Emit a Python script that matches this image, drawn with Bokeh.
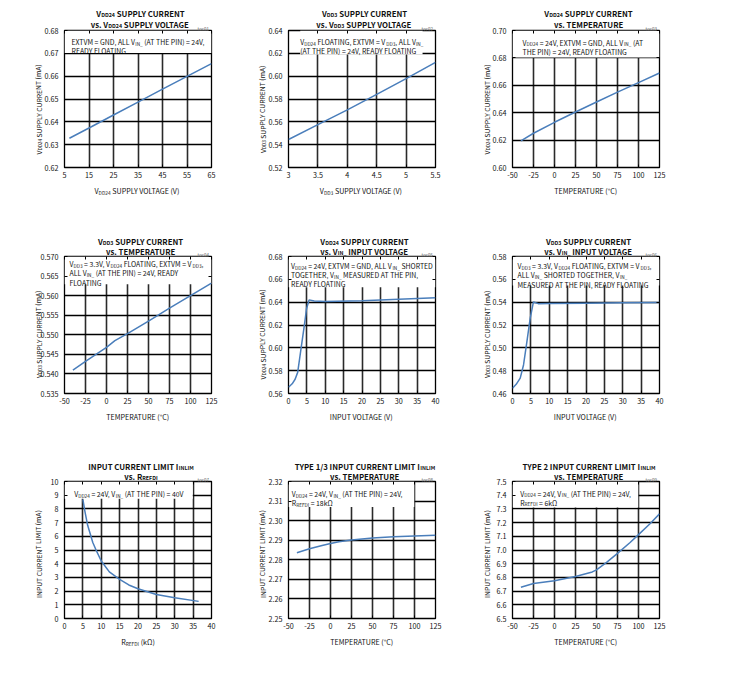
import math
import glob
import os
import struct
from bokeh.plotting import figure
from bokeh.models import FixedTicker, LinearAxis, Range1d, BoxAnnotation, ColumnDataSource
from bokeh.core.properties import value
from bokeh.layouts import column, row
from bokeh.embed import file_html
from bokeh.resources import INLINE

# ---------------- data ----------------
c1_x = [7, 15, 25, 35, 45, 55, 65]
c1_y = [0.6328, 0.6373, 0.6430, 0.6486, 0.6543, 0.6599, 0.6655]

c2_x = [3.0, 3.5, 4.0, 4.5, 5.0, 5.5]
c2_y = [0.5445, 0.5575, 0.5705, 0.5840, 0.5978, 0.6120]

c3_x = [-40, -25, 0, 25, 50, 75, 100, 125]
c3_y = [0.6195, 0.6250, 0.6330, 0.6405, 0.6478, 0.6550, 0.6620, 0.6690]

c4_x = [-40, -25, 0, 10, 25, 50, 75, 100, 125]
c4_y = [0.5410, 0.5432, 0.5468, 0.5485, 0.5503, 0.5535, 0.5568, 0.5600, 0.5632]

c5_x = [0, 1, 1.8, 2.5, 3.4, 4.3, 4.9, 5.6, 7, 10, 20, 30, 40]
c5_y = [0.5655, 0.5685, 0.5725, 0.5785, 0.5990, 0.6195, 0.6340, 0.6420,
        0.6410, 0.6405, 0.6412, 0.6425, 0.6438]

c6_x = [0, 1, 2.1, 3.0, 3.9, 4.8, 5.7, 7, 10, 20, 30, 40]
c6_y = [0.4645, 0.4680, 0.4735, 0.4850, 0.5050, 0.5255, 0.5402, 0.5387,
        0.5388, 0.5391, 0.5394, 0.5397]

c7_x = [5, 5.5, 6.3, 7.7, 8.5, 10, 12.2, 15, 17.5, 20, 25, 30, 36.5]
c7_y = [8.7, 7.9, 6.8, 5.55, 5.05, 4.2, 3.4, 2.85, 2.45, 2.17, 1.75, 1.52, 1.25]

c8_x = [-40, -25, -10, 0, 10, 25, 50, 75, 100, 125]
c8_y = [2.2836, 2.2856, 2.2873, 2.2883, 2.2892, 2.2901, 2.2911, 2.2918, 2.2922, 2.2925]

c9_x = [-40, -25, 0, 25, 45, 50, 62, 75, 90, 100, 114, 125]
c9_y = [6.728, 6.755, 6.775, 6.806, 6.840, 6.855, 6.910, 6.975, 7.055, 7.112, 7.194, 7.264]

# tick values / labels
temp_ticks = [-50, -25, 0, 25, 50, 75, 100, 125]
temp_labels = ["-50", "-25", "0", "25", "50", "75", "100", "125"]
vin_ticks = [0, 5, 10, 15, 20, 25, 30, 35, 40]
vin_labels = ["0", "5", "10", "15", "20", "25", "30", "35", "40"]

c1_xt = [5, 15, 25, 35, 45, 55, 65]
c1_xl = ["5", "15", "25", "35", "45", "55", "65"]
c1_yt = [0.62, 0.63, 0.64, 0.65, 0.66, 0.67, 0.68]
c1_yl = ["0.62", "0.63", "0.64", "0.65", "0.66", "0.67", "0.68"]

c2_xt = [3, 3.5, 4, 4.5, 5, 5.5]
c2_xl = ["3", "3.5", "4", "4.5", "5", "5.5"]
c2_yt = [0.52, 0.54, 0.56, 0.58, 0.60, 0.62, 0.64]
c2_yl = ["0.52", "0.54", "0.56", "0.58", "0.60", "0.62", "0.64"]

c3_yt = [0.60, 0.62, 0.64, 0.66, 0.68, 0.70]
c3_yl = ["0.60", "0.62", "0.64", "0.66", "0.68", "0.70"]

c4_yt = [0.535, 0.540, 0.545, 0.550, 0.555, 0.560, 0.565, 0.570]
c4_yl = ["0.535", "0.540", "0.545", "0.550", "0.555", "0.560", "0.565", "0.570"]

c5_yt = [0.56, 0.58, 0.60, 0.62, 0.64, 0.66, 0.68]
c5_yl = ["0.56", "0.58", "0.60", "0.62", "0.64", "0.66", "0.68"]

c6_yt = [0.46, 0.48, 0.50, 0.52, 0.54, 0.56, 0.58]
c6_yl = ["0.46", "0.48", "0.50", "0.52", "0.54", "0.56", "0.58"]

c7_yt = [0, 1, 2, 3, 4, 5, 6, 7, 8, 9, 10]
c7_yl = ["0", "1", "2", "3", "4", "5", "6", "7", "8", "9", "10"]

c8_yt = [2.25, 2.26, 2.27, 2.28, 2.29, 2.30, 2.31, 2.32]
c8_yl = ["2.25", "2.26", "2.27", "2.28", "2.29", "2.30", "2.31", "2.32"]

c9_yt = [6.5, 6.6, 6.7, 6.8, 6.9, 7.0, 7.1, 7.2, 7.3, 7.4, 7.5]
c9_yl = ["6.5", "6.6", "6.7", "6.8", "6.9", "7.0", "7.1", "7.2", "7.3", "7.4", "7.5"]

# ---------------- chart texts ----------------
charts = [
    dict(x=c1_x, y=c1_y, xt=c1_xt, xl=c1_xl, yt=c1_yt, yl=c1_yl, toc="toc01",
         title=["V_{DD24} SUPPLY CURRENT", "vs. V_{DD24} SUPPLY VOLTAGE"],
         box=["EXTVM = GND, ALL V_{IN_} (AT THE PIN) = 24V,", "READY FLOATING"],
         bx=7, by=11.6, ext=dict(bottom=0.6702),
         xlabel="V_{DD24} SUPPLY VOLTAGE (V)", ylabel="V_{DD24} SUPPLY CURRENT (mA)"),
    dict(x=c2_x, y=c2_y, xt=c2_xt, xl=c2_xl, yt=c2_yt, yl=c2_yl, toc="toc02",
         title=["V_{DD3} SUPPLY CURRENT", "vs. V_{DD3} SUPPLY VOLTAGE"],
         box=["V_{DD24} FLOATING, EXTVM = V_{DD3}, ALL V_{IN_}", "(AT THE PIN) = 24V, READY FLOATING"],
         bx=11.7, by=11.8, ext=dict(bottom=0.619, left=3.2, right=5.28),
         xlabel="V_{DD3} SUPPLY VOLTAGE (V)", ylabel="V_{DD3} SUPPLY CURRENT (mA)"),
    dict(x=c3_x, y=c3_y, xt=temp_ticks, xl=temp_labels, yt=c3_yt, yl=c3_yl, toc="toc03",
         title=["V_{DD24} SUPPLY CURRENT", "vs. TEMPERATURE"],
         box=["V_{DD24} = 24V, EXTVM = GND, ALL V_{IN_} (AT", "THE PIN) = 24V, READY FLOATING"],
         bx=10, by=12, ext=dict(bottom=0.6803),
         xlabel="TEMPERATURE (°C)", ylabel="V_{DD24} SUPPLY CURRENT (mA)"),
    dict(x=c4_x, y=c4_y, xt=temp_ticks, xl=temp_labels, yt=c4_yt, yl=c4_yl, toc="toc04",
         title=["V_{DD3} SUPPLY CURRENT", "vs. TEMPERATURE"],
         box=["V_{DD3} = 3.3V, V_{DD24} FLOATING, EXTVM = V_{DD3},",
              "ALL V_{IN_} (AT THE PIN) = 24V, READY", "FLOATING"],
         bx=5, by=7.8, ext=dict(bottom=0.5629),
         xlabel="TEMPERATURE (°C)", ylabel="V_{DD3} SUPPLY CURRENT (mA)"),
    dict(x=c5_x, y=c5_y, xt=vin_ticks, xl=vin_labels, yt=c5_yt, yl=c5_yl, toc="toc05",
         title=["V_{DD24} SUPPLY CURRENT", "vs. V_{IN_} INPUT VOLTAGE"],
         box=["V_{DD24} = 24V, EXTVM = GND, ALL V_{IN_} SHORTED",
              "TOGETHER, V_{IN_} MEASURED AT THE PIN,", "READY FLOATING"],
         bx=2.5, by=9.3, ext=dict(bottom=0.653),
         xlabel="INPUT VOLTAGE (V)", ylabel="V_{DD24} SUPPLY CURRENT (mA)"),
    dict(x=c6_x, y=c6_y, xt=vin_ticks, xl=vin_labels, yt=c6_yt, yl=c6_yl, toc="toc06",
         title=["V_{DD3} SUPPLY CURRENT", "vs. V_{IN_} INPUT VOLTAGE"],
         box=["V_{DD3} = 3.3V, V_{DD24} FLOATING, EXTVM = V_{DD3},",
              "ALL V_{IN_} SHORTED TOGETHER, V_{IN_}", "MEASURED AT THE PIN, READY FLOATING"],
         bx=5, by=9.8, ext=dict(bottom=0.5545),
         xlabel="INPUT VOLTAGE (V)", ylabel="V_{DD3} SUPPLY CURRENT (mA)"),
    dict(x=c7_x, y=c7_y, xt=vin_ticks, xl=vin_labels, yt=c7_yt, yl=c7_yl, toc="toc07",
         title=["INPUT CURRENT LIMIT I_{INLIM}", "vs. R_{REFDI}"],
         box=["V_{DD24} = 24V, V_{IN_} (AT THE PIN) = 40V"],
         bx=9.7, by=12.5, ext=dict(bottom=8.75, right=34.9),
         xlabel="R_{REFDI} (kΩ)", ylabel="INPUT CURRENT LIMIT (mA)"),
    dict(x=c8_x, y=c8_y, xt=temp_ticks, xl=temp_labels, yt=c8_yt, yl=c8_yl, toc="toc08",
         title=["TYPE 1/3 INPUT CURRENT LIMIT I_{INLIM}", "vs. TEMPERATURE"],
         box=["V_{DD24} = 24V, V_{IN_} (AT THE PIN) = 24V,", "R_{REFDI} = 18kΩ"],
         bx=3.3, by=12.7, ext=dict(bottom=2.307, right=99.7),
         xlabel="TEMPERATURE (°C)", ylabel="INPUT CURRENT LIMIT (mA)"),
    dict(x=c9_x, y=c9_y, xt=temp_ticks, xl=temp_labels, yt=c9_yt, yl=c9_yl, toc="toc09",
         title=["TYPE 2 INPUT CURRENT LIMIT I_{INLIM}", "vs. TEMPERATURE"],
         box=["V_{DD24} = 24V, V_{IN_} (AT THE PIN) = 24V,", "R_{REFDI} = 6kΩ"],
         bx=7.7, by=12, ext=dict(bottom=7.31, right=99.7),
         xlabel="TEMPERATURE (°C)", ylabel="INPUT CURRENT LIMIT (mA)"),
]

# ---------------- text metrics ----------------
FONT = "Noto Sans CJK JP"
SUB_SCALE = 0.68
SUB_DROP = 0.25
HALF_W = 147 / 2.0
HALF_H = 137 / 2.0

ARIAL = {' ': 278, '(': 333, ')': 333, ',': 278, '-': 333, '.': 278, '/': 278, ':': 278,
         '=': 584, '_': 556, '°': 400, 'Ω': 768,
         'A': 667, 'B': 667, 'C': 722, 'D': 722, 'E': 667, 'F': 611, 'G': 778, 'H': 722,
         'I': 278, 'J': 500, 'K': 667, 'L': 556, 'M': 833, 'N': 722, 'O': 778, 'P': 667,
         'Q': 778, 'R': 722, 'S': 667, 'T': 611, 'U': 722, 'V': 667, 'W': 944, 'X': 667,
         'Y': 667, 'Z': 611, 'a': 556, 'c': 500, 'k': 500, 'm': 833, 's': 500, 'v': 500,
         'o': 556, 't': 278}


def _u16(d, o):
    return struct.unpack_from('>H', d, o)[0]


def _s16(d, o):
    return struct.unpack_from('>h', d, o)[0]


def _u32(d, o):
    return struct.unpack_from('>I', d, o)[0]


def font_advances(path, chars):
    with open(path, 'rb') as f:
        d = f.read()
    off = _u32(d, 12) if d[:4] == b'ttcf' else 0
    tables = {}
    for i in range(_u16(d, off + 4)):
        r = off + 12 + 16 * i
        tables[d[r:r + 4].decode('latin1')] = _u32(d, r + 8)
    upm = _u16(d, tables['head'] + 18)
    nhm = _u16(d, tables['hhea'] + 34)
    hm = tables['hmtx']
    cm = tables['cmap']
    sub = None
    for i in range(_u16(d, cm + 2)):
        pid, eid, so = struct.unpack_from('>HHI', d, cm + 4 + 8 * i)
        if pid in (0, 3) and _u16(d, cm + so) == 4:
            sub = cm + so
            break
    seg2 = _u16(d, sub + 6)
    ends = sub + 14
    starts = ends + seg2 + 2
    deltas = starts + seg2
    ros = deltas + seg2
    res = {}
    for ch in chars:
        c = ord(ch)
        g = 0
        for i in range(seg2 // 2):
            if c <= _u16(d, ends + 2 * i):
                s = _u16(d, starts + 2 * i)
                if c >= s:
                    dl = _s16(d, deltas + 2 * i)
                    ro = _u16(d, ros + 2 * i)
                    if ro == 0:
                        g = (c + dl) & 0xFFFF
                    else:
                        g = _u16(d, ros + 2 * i + ro + 2 * (c - s))
                        if g:
                            g = (g + dl) & 0xFFFF
                break
        if g == 0:
            continue
        res[ch] = _u16(d, hm + 4 * min(g, nhm - 1)) / float(upm)
    return res


def find_metrics(weight, chars):
    pats = []
    for base in ("/usr/share/fonts", "/usr/local/share/fonts", os.path.expanduser("~/.fonts"),
                 os.path.expanduser("~/.local/share/fonts")):
        pats += [base + "/**/NotoSansCJK-%s.ttc" % weight,
                 base + "/**/NotoSansCJK*-%s.tt*" % weight,
                 base + "/**/NotoSansCJKjp-%s.otf" % weight,
                 base + "/**/NotoSansCJK*%s*.otf" % weight]
    for pat in pats:
        for path in sorted(glob.glob(pat, recursive=True)):
            try:
                m = font_advances(path, chars)
                if len(m) > len(chars) * 0.8:
                    return m
            except Exception:
                pass
    return None


all_chars = set()
for c in charts:
    for s in c["title"] + c["box"] + [c["xlabel"], c["ylabel"], c["toc"]]:
        all_chars.update(s)
all_chars = sorted(all_chars)

M_REG = find_metrics("Regular", all_chars)
M_BOLD = find_metrics("Bold", all_chars)
if M_REG is None:
    M_REG = {ch: ARIAL.get(ch, 556) / 1000.0 * 0.84 for ch in all_chars}
if M_BOLD is None:
    M_BOLD = {ch: v * 1.06 for ch, v in M_REG.items()}


def tw(s, size, bold):
    m = M_BOLD if bold else M_REG
    return sum(m.get(ch, 0.55) for ch in s) * size


def parse(s):
    segs, buf, i = [], "", 0
    while i < len(s):
        if s.startswith("_{", i):
            if buf:
                segs.append((buf, False))
                buf = ""
            j = s.index("}", i)
            segs.append((s[i + 2:j], True))
            i = j + 1
        else:
            buf += s[i]
            i += 1
    if buf:
        segs.append((buf, False))
    return segs


def rich_width(s, size, bold):
    return sum(tw(t, size * (SUB_SCALE if sub else 1), bold) for t, sub in parse(s))


def fit_size(s, target_px, bold, lo, hi):
    w1 = rich_width(s, 1.0, bold)
    return max(lo, min(hi, target_px / w1))


# font sizes calibrated against the widths of reference texts
TITLE_SIZE = fit_size("TYPE 2 INPUT CURRENT LIMIT I_{INLIM}", 133, True, 7.5, 10.5)
BOX_SIZE = fit_size("V_{DD24} = 24V, EXTVM = GND, ALL V_{IN_} SHORTED", 142, False, 6.5, 9.0)
XLAB_SIZE = fit_size("V_{DD24} SUPPLY VOLTAGE (V)", 87, False, 6.5, 9.5)
YLAB_SIZE = fit_size("INPUT CURRENT LIMIT (mA)", 88, False, 6.5, 9.5)
TICK_SIZE = round(min(8.6, max(7.2, XLAB_SIZE)), 2)


def rich(acc, s, dx, dy, size, bold=False, align="left", vertical=False, color="#111111"):
    """dx, dy: pixel position (up = positive) relative to the frame centre."""
    segs = parse(s)
    total = rich_width(s, size, bold)
    pos = 0.0 if align == "left" else (-total / 2.0 if align == "center" else -total)
    for t, sub in segs:
        fs = size * (SUB_SCALE if sub else 1)
        drop = size * SUB_DROP if sub else 0.0
        stripped = t.lstrip(" ")
        lead = tw(t[:len(t) - len(stripped)], fs, bold)
        stripped = stripped.rstrip(" ")
        if stripped:
            if vertical:
                xo, yo, ang = dx + drop, dy + pos + lead, math.pi / 2
            else:
                xo, yo, ang = dx + pos + lead, dy - drop, 0.0
            acc["xo"].append(xo)
            acc["yo"].append(-yo)          # screen offsets grow downwards
            acc["text"].append(stripped)
            acc["size"].append(f"{fs:.2f}px")
            acc["style"].append("bold" if bold else "normal")
            acc["angle"].append(ang)
            acc["color"].append(color)
        pos += tw(t, fs, bold)


rows_cfg = [dict(bottom=59, t1=17.5, t2=6, yl=-10),
            dict(bottom=58, t1=15.5, t2=5, yl=-9),
            dict(bottom=40, t1=15.5, t2=5, yl=-4)]

LINE = "#4a7ebb"


def make(cfg, rc):
    xt, yt = cfg["xt"], cfg["yt"]
    p = figure(frame_width=147, frame_height=137, min_border_left=64, min_border_right=13,
               min_border_top=30, min_border_bottom=rc["bottom"],
               x_range=Range1d(xt[0], xt[-1]), y_range=Range1d(yt[0], yt[-1]),
               output_backend="svg", toolbar_location=None, tools="")
    p.background_fill_color = "white"
    p.border_fill_color = "white"
    p.outline_line_color = "#000000"
    p.outline_line_width = 1.3

    p.xgrid.ticker = FixedTicker(ticks=xt)
    p.ygrid.ticker = FixedTicker(ticks=yt)
    p.xgrid.grid_line_color = "#2a2a2a"
    p.xgrid.grid_line_width = 1.6
    p.ygrid.grid_line_color = "#000000"
    p.ygrid.grid_line_width = 1.5

    for ax, ticks, labs, standoff in ((p.xaxis[0], xt, cfg["xl"], 4), (p.yaxis[0], yt, cfg["yl"], 6)):
        ax.ticker = FixedTicker(ticks=ticks)
        ax.major_label_overrides = {t: l for t, l in zip(ticks, labs)}
        ax.major_tick_in = 3
        ax.major_tick_out = 0
        ax.minor_tick_line_color = None
        ax.axis_line_color = None
        ax.major_tick_line_color = "#000000"
        ax.major_label_text_font = FONT
        ax.major_label_text_font_size = f"{TICK_SIZE}px"
        ax.major_label_text_color = "#111111"
        ax.major_label_standoff = standoff

    for loc, ticks in (("above", xt), ("right", yt)):
        ax = LinearAxis(ticker=FixedTicker(ticks=ticks), major_tick_in=3, major_tick_out=0,
                        minor_tick_line_color=None, axis_line_color=None,
                        major_label_overrides={t: "" for t in ticks},
                        major_label_text_color=None, major_label_standoff=0)
        p.add_layout(ax, loc)

    p.add_layout(BoxAnnotation(fill_color="white", fill_alpha=1.0, line_color=None,
                               level="underlay", **cfg["ext"]))
    p.line(cfg["x"], cfg["y"], line_color=LINE, line_width=1.5)

    acc = dict(xo=[], yo=[], text=[], size=[], style=[], angle=[], color=[])
    rich(acc, cfg["title"][0], 3, HALF_H + rc["t1"], TITLE_SIZE, bold=True, align="center")
    rich(acc, cfg["title"][1], 3, HALF_H + rc["t2"], TITLE_SIZE, bold=True, align="center")
    for i, line in enumerate(cfg["box"]):
        rich(acc, line, -HALF_W + cfg["bx"], HALF_H - (cfg["by"] + 9.1 * i), BOX_SIZE)
    rich(acc, cfg["xlabel"], 0, -HALF_H - 23, XLAB_SIZE, align="center")
    rich(acc, cfg["ylabel"], -HALF_W - 26, rc["yl"], YLAB_SIZE, align="center", vertical=True)
    rich(acc, cfg["toc"], HALF_W - 2.5, HALF_H + 2, 4.4, align="right", color="#555555")

    n = len(acc["text"])
    xm = (xt[0] + xt[-1]) / 2.0
    ym = (yt[0] + yt[-1]) / 2.0
    acc["x"] = [xm] * n
    acc["y"] = [ym] * n
    src = ColumnDataSource(acc)
    p.text(x="x", y="y", text="text", x_offset="xo", y_offset="yo", angle="angle",
           text_font=value(FONT), text_font_size="size", text_font_style="style",
           text_color="color", text_align="left", text_baseline="alphabetic",
           source=src, level="overlay")
    return p


figs = [make(c, rows_cfg[i // 3]) for i, c in enumerate(charts)]
layout = column(row(*figs[0:3]), row(*figs[3:6]), row(*figs[6:9]))

open("out.html", "w").write(file_html(layout, INLINE, "Typical Operating Characteristics"))
